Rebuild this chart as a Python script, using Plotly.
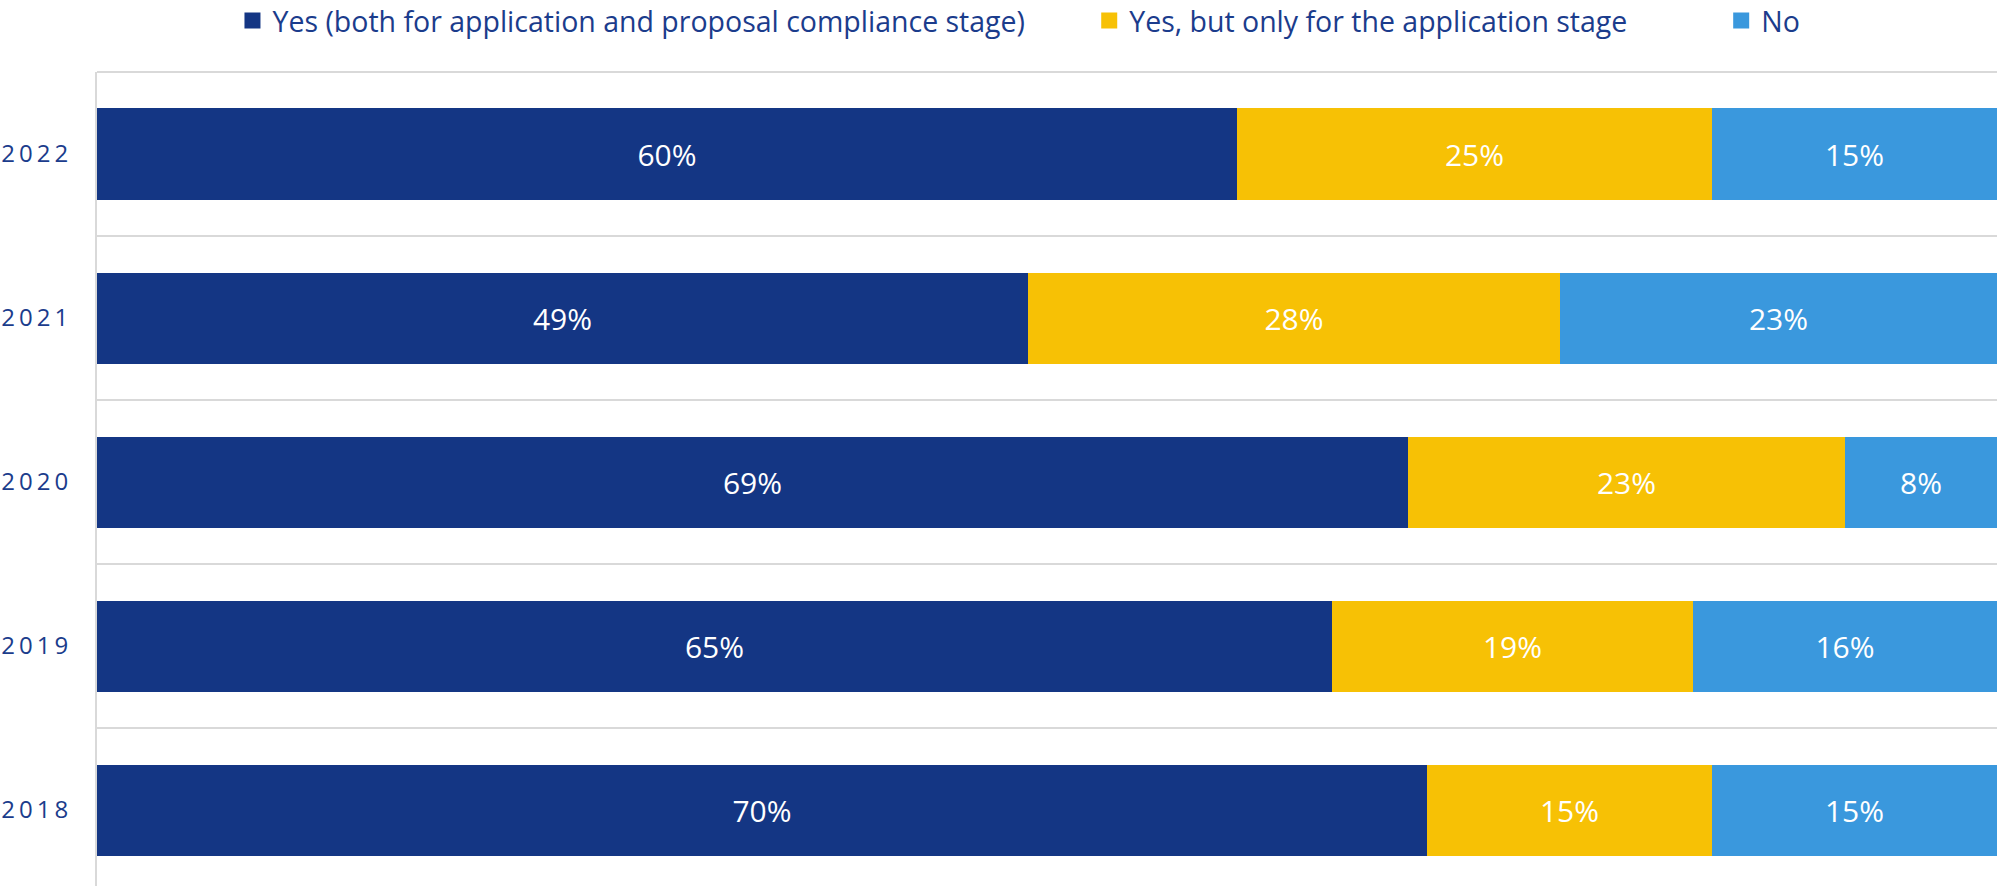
import plotly.graph_objects as go

years = ["2018", "2019", "2020", "2021", "2022"]
series_names = [
    "Yes (both for application and proposal compliance stage)",
    "Yes, but only for the application stage",
    "No",
]
yes_both = [70, 65, 69, 49, 60]
yes_app = [15, 19, 23, 28, 25]
no_vals = [15, 16, 8, 23, 15]
colors = ["#143684", "#f7c105", "#3a98dd"]
legend_pad = ["\u00a0" * 8, "\u00a0" * 12, ""]

text_blue = "#1b3c8c"
grid = "#d9d9d9"

fig = go.Figure()
for name, vals, col in zip(series_names, [yes_both, yes_app, no_vals], colors):
    fig.add_trace(go.Bar(
        y=years, x=vals, orientation="h", name=name, marker_color=col,
        marker_line_width=0, showlegend=False,
        text=[f"{v}%" for v in vals], textposition="inside",
        insidetextanchor="middle",
        textfont=dict(family="Open Sans", size=30, color="white"),
        hoverinfo="x+y",
    ))
for name, col, pad in zip(series_names, colors, legend_pad):
    fig.add_trace(go.Scatter(
        x=[None], y=[None], mode="markers", name=name + pad,
        marker=dict(symbol="square", size=17, color=col),
    ))

fig.update_layout(
    width=1997, height=886,
    barmode="stack", bargap=0.445,
    margin=dict(l=97, r=0, t=72, b=0, pad=0, autoexpand=False),
    paper_bgcolor="white", plot_bgcolor="white",
    uniformtext=dict(mode=False),
    legend=dict(
        orientation="h", traceorder="normal",
        x=0.0713, xanchor="left", y=1.0627, yanchor="middle",
        font=dict(family="Open Sans", size=28.5, color=text_blue),
        bgcolor="rgba(0,0,0,0)", itemclick=False,
    ),
    xaxis=dict(range=[0, 100], showgrid=False, showticklabels=False,
               zeroline=False, showline=False, fixedrange=True),
    yaxis=dict(
        type="category", categoryorder="array", categoryarray=years,
        range=[-0.463, 4.5], tickson="boundaries", showgrid=True,
        gridcolor=grid, gridwidth=2, showline=True, linecolor=grid,
        linewidth=2, ticks="", tickvals=years,
        ticktext=["\u2009".join(y) for y in years],
        tickfont=dict(family="Open Sans", size=24, color=text_blue),
        ticklabelstandoff=22, zeroline=False, automargin=False,
        fixedrange=True,
    ),
    shapes=[dict(type="line", xref="paper", yref="paper", x0=0, x1=1,
                 y0=1, y1=1, line=dict(color=grid, width=2), layer="below")],
)

fig.write_html(
    "out.html",
    config={"displayModeBar": False},
    post_script="document.body.style.margin='0';document.body.style.overflow='hidden';",
)
